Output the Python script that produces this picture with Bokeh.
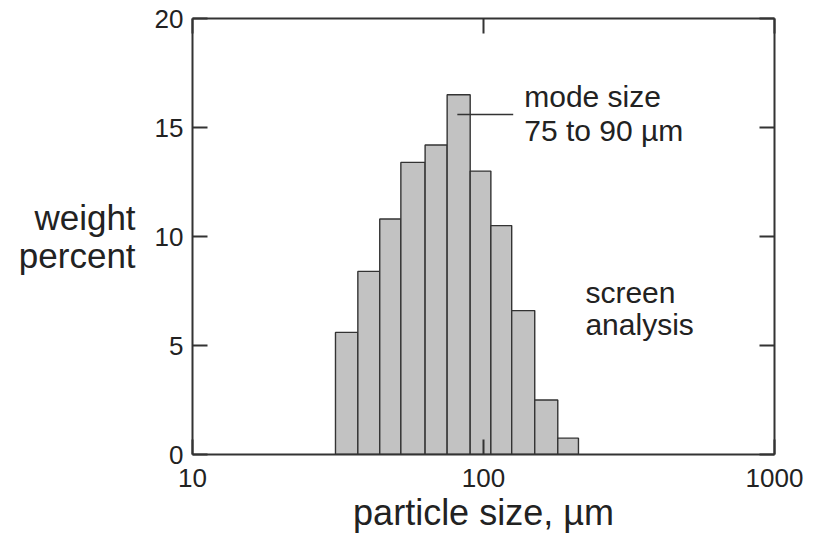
from bokeh.plotting import figure
from bokeh.models import Range1d, FixedTicker, NumeralTickFormatter, LinearAxis, LogAxis
from bokeh.core.properties import value
from bokeh.embed import file_html
from bokeh.resources import INLINE

# sieve edges (micrometres) and weight percent retained per size class
edges = [31, 37, 44, 52, 63, 75, 90, 106, 125, 150, 180, 212]
weight_pct = [5.6, 8.4, 10.8, 13.4, 14.2, 16.5, 13.0, 10.5, 6.6, 2.5, 0.75]
x_ticks = [10, 100, 1000]
y_ticks = [0, 5, 10, 15, 20]

# annotation anchors (data units)
mode_text_x = 138
mode_text_y = [16.4, 14.86]
mode_text = ["mode size", "75 to 90 \u00b5m"]
leader_x = [81.3, 126.5]
leader_y = [15.6, 15.6]
screen_text_x = 224
screen_text_y = [7.43, 5.96]
screen_text = ["screen", "analysis"]

FONT = "Liberation Sans"
INK = "#222222"
FRAME = "#333333"

p = figure(x_axis_type="log", x_range=Range1d(10, 1000), y_range=Range1d(0, 20),
           frame_width=582, frame_height=436,
           min_border_left=192, min_border_right=37, min_border_top=18, min_border_bottom=70,
           output_backend="svg", toolbar_location=None, background_fill_color="white",
           border_fill_color="white")
p.outline_line_color = None
p.grid.visible = False

p.quad(left=edges[:-1], right=edges[1:], bottom=0, top=weight_pct,
       fill_color="#c2c2c2", line_color="#333333", line_width=1.4)

p.line(x=leader_x, y=leader_y, line_color=FRAME, line_width=1.5)

p.text(x=[mode_text_x] * 2, y=mode_text_y, text=mode_text, text_font=value(FONT),
       text_font_size="30px", text_color=INK, text_baseline="alphabetic", text_align="left")
p.text(x=[screen_text_x] * 2, y=screen_text_y, text=screen_text, text_font=value(FONT),
       text_font_size="30px", text_color=INK, text_baseline="alphabetic", text_align="left")


def style(ax, ticks, labels=True):
    ax.axis_line_color = FRAME
    ax.axis_line_width = 2
    ax.major_tick_line_color = FRAME
    ax.major_tick_line_width = 2
    ax.major_tick_in = 15
    ax.major_tick_out = 0
    ax.minor_tick_line_color = None
    ax.major_label_text_font = FONT
    ax.major_label_text_color = INK
    ax.axis_label_text_font = FONT
    ax.axis_label_text_color = INK
    ax.axis_label_text_font_style = "normal"
    if not labels:
        ax.major_label_overrides = {t: "" for t in ticks}
        ax.major_label_text_font_size = "1px"
        ax.major_label_standoff = 0


xa = p.xaxis[0]
style(xa, x_ticks)
xa.ticker = FixedTicker(ticks=x_ticks)
xa.formatter = NumeralTickFormatter(format="0")
xa.major_label_text_font_size = "26px"
xa.major_label_standoff = 14
xa.axis_label = "particle size, \u00b5m"
xa.axis_label_text_font_size = "36px"
xa.axis_label_standoff = 2

ya = p.yaxis[0]
style(ya, y_ticks)
ya.ticker = FixedTicker(ticks=y_ticks)
ya.major_label_text_font_size = "26px"
ya.major_label_standoff = 9
ya.axis_label = "weight\npercent"
ya.axis_label_orientation = "horizontal"
ya.axis_label_text_font_size = "35px"
ya.axis_label_text_line_height = 0.95
ya.axis_label_standoff = 16

top = LogAxis(ticker=FixedTicker(ticks=x_ticks))
style(top, x_ticks, labels=False)
p.add_layout(top, "above")

right = LinearAxis(ticker=FixedTicker(ticks=y_ticks))
style(right, y_ticks, labels=False)
p.add_layout(right, "right")

open("out.html", "w").write(file_html(p, INLINE))
